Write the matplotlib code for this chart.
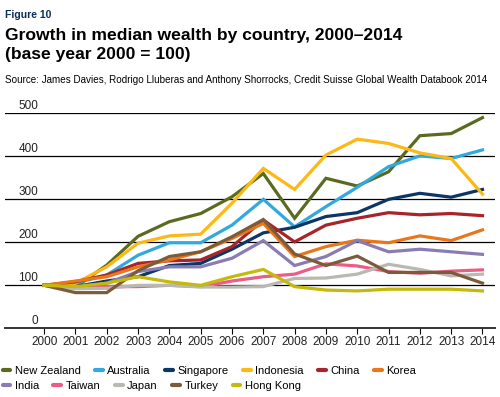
import matplotlib
matplotlib.use('Agg')
import matplotlib.pyplot as plt

plt.rcParams['font.family'] = ['Liberation Sans', 'DejaVu Sans']

# data (index, 2000 = 100)
years = list(range(2000, 2015))
countries = ['New Zealand', 'Australia', 'Singapore', 'Indonesia', 'China', 'Korea',
             'India', 'Taiwan', 'Japan', 'Turkey', 'Hong Kong']
new_zealand = [100, 96, 147, 214, 248, 267, 306, 360, 256, 349, 331, 364, 448, 453, 490]
australia = [100, 105, 124, 170, 199, 199, 240, 300, 236, 283, 328, 376, 401, 395, 415]
singapore = [100, 97, 110, 120, 146, 151, 184, 222, 235, 260, 269, 300, 314, 305, 323]
indonesia = [100, 105, 143, 198, 215, 219, 291, 372, 323, 403, 440, 430, 408, 395, 312]
china = [100, 108, 124, 151, 157, 159, 190, 252, 201, 240, 256, 269, 264, 267, 262]
korea = [100, 110, 120, 143, 159, 178, 209, 244, 167, 190, 205, 199, 215, 204, 229]
india = [100, 95, 105, 132, 143, 143, 163, 204, 146, 167, 204, 178, 184, 178, 172]
taiwan = [100, 95, 97, 97, 100, 97, 110, 120, 126, 150, 145, 132, 128, 133, 136]
japan = [100, 92, 93, 100, 100, 96, 96, 97, 116, 117, 126, 149, 137, 122, 126]
turkey = [100, 83, 83, 134, 167, 178, 213, 253, 173, 146, 168, 130, 130, 130, 105]
hong_kong = [100, 97, 105, 120, 108, 100, 120, 137, 97, 89, 87, 91, 91, 91, 87]
series = [new_zealand, australia, singapore, indonesia, china, korea,
          india, taiwan, japan, turkey, hong_kong]
colors = ['#5a6a1e', '#2fa9de', '#0b3665', '#fcb813', '#a8232a', '#e97618',
          '#8a7cb3', '#ea5d86', '#b9b9b2', '#7c5b3b', '#c5b90a']

fig = plt.figure(figsize=(5, 3.97), dpi=100)
ax = fig.add_axes([0.01, 0.173, 0.98, 0.5415])

for vals, c, name in zip(series, colors, countries):
    ax.plot(years, vals, color=c, lw=2.3, label=name, clip_on=False,
            solid_joinstyle='miter')

ax.set_xlim(1998.75, 2014.4)
ax.set_ylim(0, 500)
for v in [100, 200, 300, 400, 500]:
    ax.axhline(v, color='black', lw=0.9, zorder=0)
    ax.text(0.068, v + 3, str(v), transform=ax.get_yaxis_transform(),
            ha='right', va='bottom', fontsize=8.5, color='#222222')
ax.text(0.068, 3, '0', transform=ax.get_yaxis_transform(),
        ha='right', va='bottom', fontsize=8.5, color='#222222')

for s in ['top', 'right', 'left']:
    ax.spines[s].set_visible(False)
ax.spines['bottom'].set_linewidth(1.4)
ax.spines['bottom'].set_color('#333333')
ax.set_yticks([])
ax.set_xticks(years)
ax.set_xticklabels([str(y) for y in years], fontsize=8.5, color='#222222')
ax.tick_params(axis='x', length=4, width=0.8, pad=1.5)

fig.text(0.01, 0.975, 'Figure 10', fontsize=7.5, fontweight='bold', color='#0a2d5c',
         va='top')
fig.text(0.01, 0.93, 'Growth in median wealth by country, 2000\u20132014\n(base year 2000 = 100)',
         fontsize=12.6, fontweight='bold', va='top', linespacing=1.35)
fig.text(0.01, 0.812, 'Source: James Davies, Rodrigo Lluberas and Anthony Shorrocks, '
         'Credit Suisse Global Wealth Databook 2014', fontsize=7.1, va='top')

handles, labels = ax.get_legend_handles_labels()
leg_kw = dict(frameon=False, fontsize=8, handlelength=0.7, handletextpad=0.4,
              columnspacing=1.3, borderpad=0, borderaxespad=0)
leg1 = fig.legend(handles[:6], labels[:6], ncol=6, loc='upper left',
                  bbox_to_anchor=(0.005, 0.078), **leg_kw)
leg2 = fig.legend(handles[6:], labels[6:], ncol=5, loc='upper left',
                  bbox_to_anchor=(0.005, 0.041), **leg_kw)
for leg in (leg1, leg2):
    for h in leg.legend_handles:
        h.set_linewidth(3)
        h.set_solid_capstyle('round')

fig.savefig('out.png', dpi=100)
